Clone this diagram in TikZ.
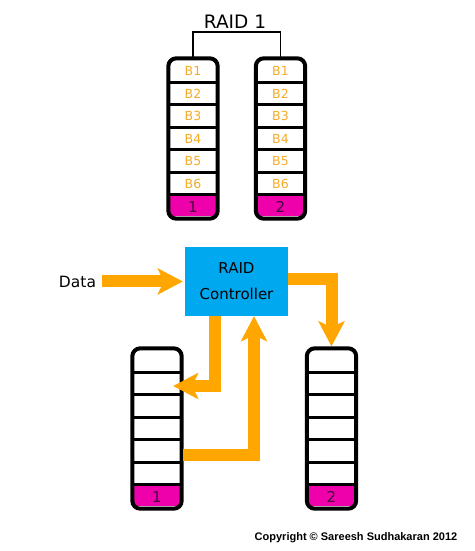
\documentclass[tikz,border=0pt]{standalone}
\usepackage{fontspec}
\setmainfont{DejaVu Sans}
\newfontfamily\cpyfont{Liberation Sans}
\usetikzlibrary{arrows.meta,calc}
\definecolor{arrowor}{RGB}{255,166,0}
\definecolor{labelor}{RGB}{245,172,40}
\definecolor{diskmag}{RGB}{238,0,170}
\definecolor{numtxt}{RGB}{70,0,60}
\definecolor{ctrlblue}{RGB}{0,168,240}
\tikzset{
  diskbody/.style={fill=white, rounded corners=8pt, minimum width=49pt, minimum height=160pt, inner sep=0pt},
  diskborder/.style={draw=black, line width=4pt, rounded corners=8pt},
  sepline/.style={draw=black, line width=3pt},
  blabel/.style={text=labelor, font=\fontsize{12.5}{12.5}\selectfont, inner sep=0pt},
  nlabel/.style={text=numtxt, font=\fontsize{15}{15}\selectfont, inner sep=0pt},
  flow/.style={draw=arrowor, line width=12pt, line join=miter, -{Stealth[length=25pt, width=26pt, inset=6pt]}},
  bracket/.style={draw=black, line width=1.3pt}
}
\newcommand{\makedisk}[4]{% name, x, y, number
  \node[diskbody] (#1) at (#2,#3) {};
  \begin{scope}
    \clip[rounded corners=8pt] (#1.south west) rectangle (#1.north east);
    \fill[diskmag] ($(#1.south west)+(0,-3)$) rectangle ($(#1.south east)+(0,-24.5)$);
  \end{scope}
  \foreach \k in {0,...,5}{
    \draw[sepline] ($(#1.north west)+(0,24+22.5*\k)$) -- ($(#1.north east)+(0,24+22.5*\k)$);
  }
  \draw[diskborder] (#1.south west) rectangle (#1.north east);
  \node[nlabel] (#1num) at ($(#1.south)+(0,-11.5)$) {#4};
}
\begin{document}
\begin{tikzpicture}[x=1pt, y=-1pt]
\useasboundingbox[fill=white] (0,0) rectangle (474,551);

% top RAID 1 disks
\makedisk{dA}{193}{138.5}{1}
\makedisk{dB}{280.5}{138.5}{2}
\foreach \d in {dA,dB}{
  \node[blabel] (\d l1) at ($(\d.north)+(0,13)$) {B1};
  \foreach \k in {2,...,6}{
    \node[blabel] (\d l\k) at ($(\d.north)+(0,35.25+22.5*\k-45)$) {B\k};
  }
}
\node[anchor=base, font=\fontsize{18.5}{18.5}\selectfont, inner sep=0pt] (title) at (235,28.5) {RAID 1};
\draw[bracket] (dA.north) -- (dA.north |- 0,32) -- (dB.north |- 0,32) -- (dB.north);

% bottom disks
\makedisk{dC}{157}{428.5}{1}
\makedisk{dD}{331.5}{428.5}{2}

% controller
\node[fill=ctrlblue, minimum width=103pt, minimum height=69pt, inner sep=0pt, align=center,
      font=\fontsize{15}{26}\selectfont] (ctrl) at (236.5,281.5) {RAID\\Controller};
\node[anchor=base, inner sep=0pt, font=\fontsize{15.5}{15.5}\selectfont] (data) at (77.5,287) {Data};

% flows
\draw[flow, shorten <=6pt, shorten >=2pt] (data.east) -- (data.east -| ctrl.west);
\draw[flow, shorten >=2pt] ($(ctrl.east)+(0,-3)$) -| (dD.north);
\draw[flow, shorten >=-8.5pt] ($(ctrl.south)+(-21.5,0)$) |- ($(dC.east)+(0,-42.5)$);
\draw[flow] ($(dC.east)+(1.5,26.5)$) -| ($(ctrl.south)+(17.5,0)$);

% copyright
\node[font=\cpyfont\bfseries\fontsize{11}{11}\selectfont, inner sep=0pt] (copy) at (356,538) {Copyright © Sareesh Sudhakaran 2012};
\end{tikzpicture}
\end{document}
